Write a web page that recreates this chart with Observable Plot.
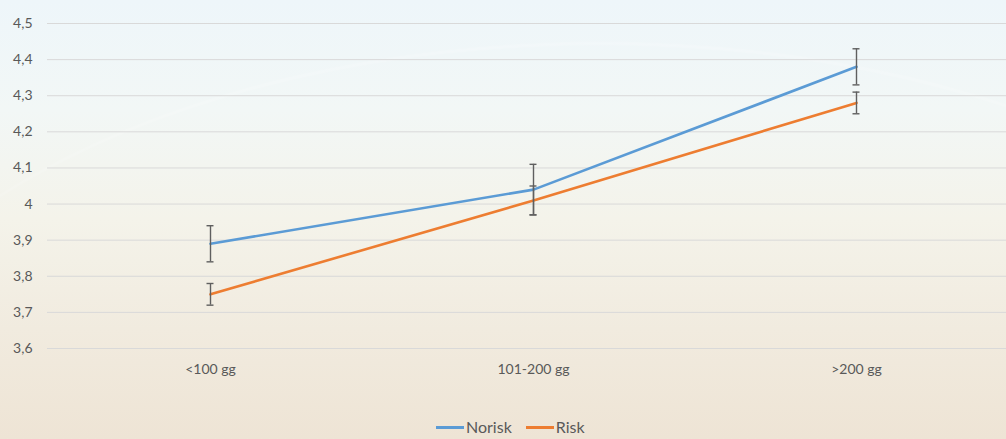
<!DOCTYPE html>
<html>
<head>
<meta charset="utf-8">
<script src="https://cdn.jsdelivr.net/npm/d3@7"></script>
<script src="https://cdn.jsdelivr.net/npm/@observablehq/plot@0.6"></script>
<style>
  html, body { margin: 0; padding: 0; }
  #wrap {
    position: relative; width: 1006px; height: 439px; overflow: hidden;
    background: linear-gradient(180deg, #eef6fa 0%, #f2f7f6 25%, #f4f3ea 50%, #f1ebdf 75%, #eee4d5 100%);
    font-family: "Lato", "Open Sans", sans-serif;
  }
  #wrap::before {
    content: ""; position: absolute; left: -200px; top: 42px; width: 1600px; height: 900px;
    border-radius: 50%; border-top: 3px solid rgba(255,255,255,0.25); pointer-events: none;
    filter: blur(1px);
  }
  #chart { position: absolute; left: 0; top: 0; }
  #legend {
    position: absolute; left: 436px; top: 418px; display: flex; align-items: center;
    font-size: 16px; line-height: 18px; color: #595959; white-space: nowrap;
  }
  #legend .sw { display: inline-block; width: 28px; height: 3px; margin-right: 2px; }
  #legend .item { display: flex; align-items: center; margin-right: 14px; }
</style>
</head>
<body>
<div id="wrap">
  <div id="chart"></div>
  <div id="legend"></div>
</div>
<script>
const categories = ["<100 gg", "101-200 gg", ">200 gg"];
const noriskMean = [3.89, 4.04, 4.38];
const noriskErr = [0.05, 0.07, 0.05];
const riskMean = [3.75, 4.01, 4.28];
const riskErr = [0.03, 0.04, 0.03];
const seriesNames = ["Norisk", "Risk"];
const seriesColors = ["#5b9bd5", "#ed7d31"];
const yTicks = [3.6, 3.7, 3.8, 3.9, 4.0, 4.1, 4.2, 4.3, 4.4, 4.5];
const yTickLabels = ["3,6", "3,7", "3,8", "3,9", "4", "4,1", "4,2", "4,3", "4,4", "4,5"];

const rows = [];
categories.forEach((c, i) => {
  rows.push({series: "Norisk", cat: c, mean: noriskMean[i], lo: noriskMean[i] - noriskErr[i], hi: noriskMean[i] + noriskErr[i]});
  rows.push({series: "Risk", cat: c, mean: riskMean[i], lo: riskMean[i] - riskErr[i], hi: riskMean[i] + riskErr[i]});
});

const font = '"Lato", "Open Sans", sans-serif';
const errColor = "#5f5f5f";

const plot = Plot.plot({
  width: 1006,
  height: 400,
  marginTop: 23,
  marginBottom: 52,
  marginLeft: 47,
  marginRight: 0,
  style: {background: "transparent", fontFamily: font, fontSize: "14px", color: "#595959", overflow: "visible"},
  x: {type: "point", domain: categories, range: [47, 1018], padding: 0.5},
  y: {domain: [3.6, 4.5]},
  color: {domain: seriesNames, range: seriesColors},
  marks: [
    Plot.gridY(yTicks, {stroke: "#d9d9d9", strokeOpacity: 1, strokeWidth: 1}),
    Plot.axisY({ticks: yTicks, tickSize: 0, tickPadding: 15, label: null,
      tickFormat: d => yTickLabels[yTicks.findIndex(t => Math.abs(t - d) < 1e-9)], fill: "#595959"}),
    Plot.axisX({tickSize: 0, tickPadding: 16, label: null, fill: "#595959"}),
    Plot.lineY(rows, {x: "cat", y: "mean", z: "series", stroke: "series", strokeWidth: 2.6}),
    Plot.ruleX(rows, {x: "cat", y1: "lo", y2: "hi", stroke: errColor, strokeWidth: 1.4}),
    Plot.ruleY(rows, {y: "lo", x1: "cat", x2: "cat", insetLeft: -3.5, insetRight: -3.5, stroke: errColor, strokeWidth: 1.4}),
    Plot.ruleY(rows, {y: "hi", x1: "cat", x2: "cat", insetLeft: -3.5, insetRight: -3.5, stroke: errColor, strokeWidth: 1.4})
  ]
});
document.getElementById("chart").appendChild(plot);

const legend = document.getElementById("legend");
seriesNames.forEach((n, i) => {
  const item = document.createElement("span");
  item.className = "item";
  const sw = document.createElement("span");
  sw.className = "sw";
  sw.style.background = seriesColors[i];
  item.appendChild(sw);
  item.appendChild(document.createTextNode(n));
  legend.appendChild(item);
});
</script>
</body>
</html>
